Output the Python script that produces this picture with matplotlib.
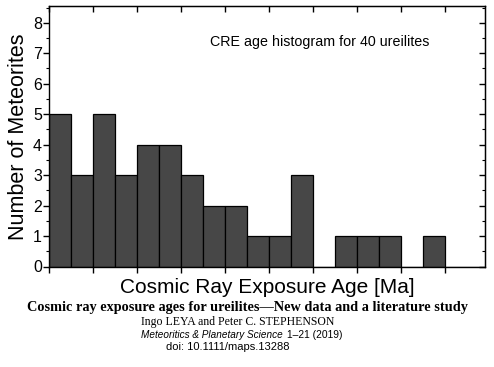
import numpy as np
import matplotlib
matplotlib.use('Agg')
import matplotlib.pyplot as plt
from matplotlib.ticker import MultipleLocator, NullFormatter

plt.rcParams['font.family'] = ['Liberation Sans', 'DejaVu Sans']

# histogram of CRE ages (bin width 5 Ma)
bin_left = np.arange(0, 100, 5)
counts = [5, 3, 5, 3, 4, 4, 3, 2, 2, 1, 1, 3, 0, 1, 1, 1, 0, 1, 0, 0]
bin_width = 5

fig = plt.figure(figsize=(4.94, 3.67), dpi=100)
ax = fig.add_axes([49/494, 1-266.5/367, 436/494, 260.5/367])

ax.bar(bin_left, counts, width=bin_width, align='edge',
       color='#474747', edgecolor='black', linewidth=0.9)

ax.set_xlim(0, 99)
ax.set_ylim(0, 8.55)
ax.yaxis.set_major_locator(MultipleLocator(1))
ax.yaxis.set_minor_locator(MultipleLocator(0.5))
ax.xaxis.set_major_locator(MultipleLocator(10))
ax.xaxis.set_major_formatter(NullFormatter())

ax.tick_params(axis='both', which='major', direction='out', length=4, width=1,
               labelsize=11.5, pad=1)
ax.tick_params(axis='y', which='minor', direction='out', length=2.5, width=0.8)
for sp in ax.spines.values():
    sp.set_linewidth(1)

# top / right ticks point inward
top = ax.secondary_xaxis('top')
top.xaxis.set_major_locator(MultipleLocator(10))
top.xaxis.set_major_formatter(NullFormatter())
top.tick_params(direction='in', length=4, width=1)
right = ax.secondary_yaxis('right')
right.yaxis.set_major_locator(MultipleLocator(1))
right.yaxis.set_minor_locator(MultipleLocator(0.5))
right.yaxis.set_major_formatter(NullFormatter())
right.tick_params(which='major', direction='in', length=4, width=1)
right.tick_params(which='minor', direction='in', length=2.5, width=0.8)

ax.set_ylabel('Number of Meteorites', fontsize=15.5, labelpad=3)
ax.set_xlabel('Cosmic Ray Exposure Age [Ma]', fontsize=15, labelpad=3)

ax.text(0.62, 0.86, 'CRE age histogram for 40 ureilites', transform=ax.transAxes,
        fontsize=10.3, ha='center', va='center')

# citation block under the chart
fig.text(0.5, 1-307/367, 'Cosmic ray exposure ages for ureilites\u2014New data and a literature study',
         family='Liberation Serif', weight='bold', fontsize=10.3, ha='center', va='center')
fig.text(238/494, 1-322/367, 'Ingo LEYA and Peter C. STEPHENSON',
         family='Liberation Serif', fontsize=8.5, ha='center', va='center')
fig.text(283/494, 1-335/367, 'Meteoritics & Planetary Science',
         style='italic', fontsize=7.2, ha='right', va='center')
fig.text(287/494, 1-335/367, '1\u201321 (2019)',
         fontsize=7.4, ha='left', va='center')
fig.text(227.5/494, 1-347.5/367, 'doi: 10.1111/maps.13288',
         fontsize=8.0, ha='center', va='center')

fig.savefig('out.png', dpi=100)
